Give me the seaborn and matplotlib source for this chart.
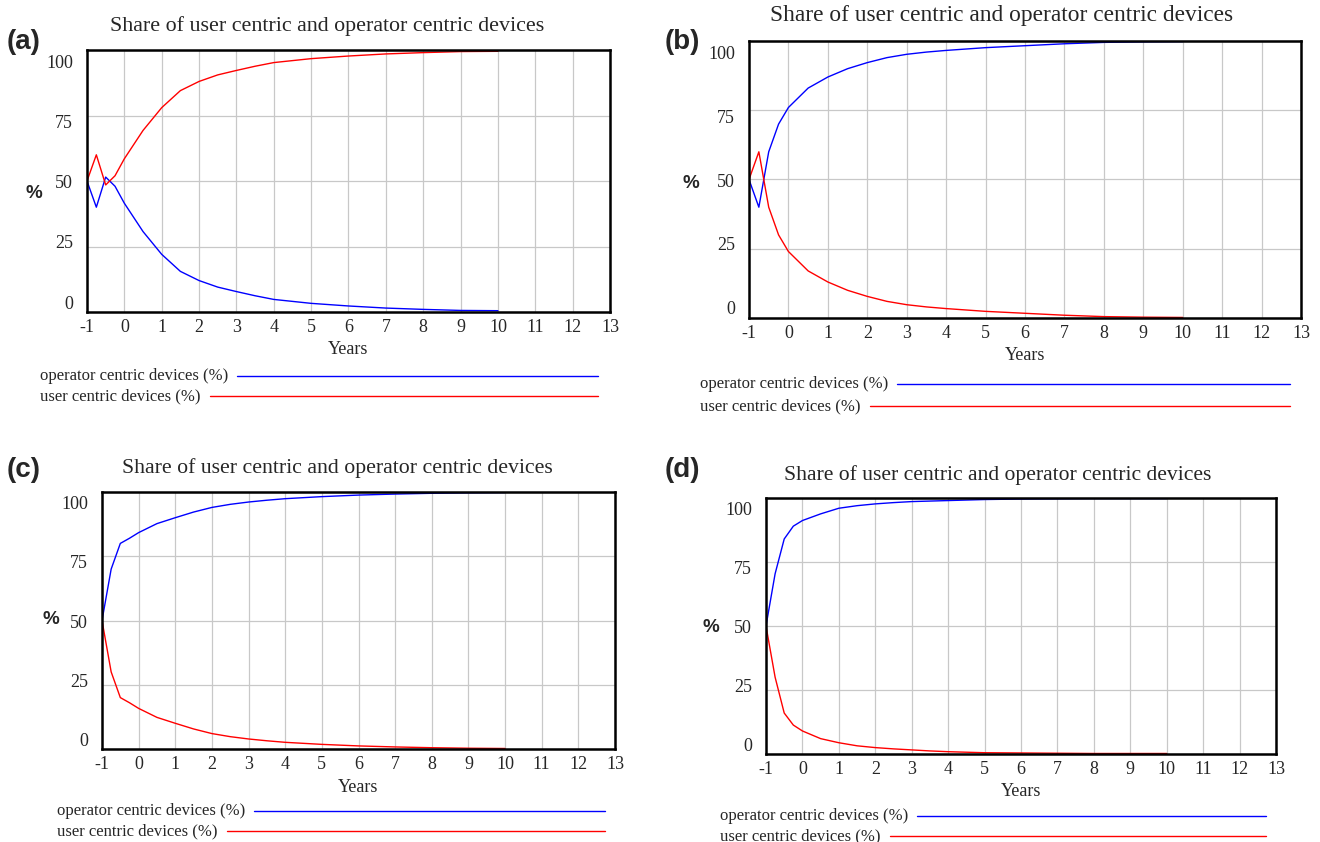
import numpy as np
import pandas as pd
import matplotlib
matplotlib.use("Agg")
import matplotlib.pyplot as plt
from matplotlib.lines import Line2D
import seaborn as sns

# time axis of the simulation output (years)
years = [-1, -0.75, -0.5, -0.25, 0, 0.5, 1, 1.5, 2, 2.5, 3, 3.5, 4, 5, 6, 7, 8, 9, 10]

# (a)
op_a = [50, 40, 51.5, 48, 41.5, 30.7, 22, 15.5, 12, 9.5, 7.8, 6.2, 4.8, 3.3, 2.3, 1.5, 1.0, 0.6, 0.5]
user_a = [50, 60, 48.5, 52, 58.5, 69.3, 78, 84.5, 88, 90.5, 92.2, 93.8, 95.2, 96.7, 97.7, 98.5, 99.0, 99.4, 99.5]
# (b)
op_b = [50, 40, 60, 70, 76, 83, 87, 90, 92.2, 94, 95.2, 96, 96.6, 97.6, 98.3, 99.0, 99.5, 99.7, 99.8]
user_b = [50, 60, 40, 30, 24, 17, 13, 10, 7.8, 6, 4.8, 4, 3.4, 2.4, 1.7, 1.0, 0.5, 0.3, 0.2]
# (c)
op_c = [50, 70, 80, 82, 84.2, 87.7, 90, 92.2, 94, 95.2, 96.1, 96.8, 97.4, 98.2, 98.8, 99.2, 99.5, 99.7, 99.8]
user_c = [50, 30, 20, 18, 15.8, 12.3, 10, 7.8, 6, 4.8, 3.9, 3.2, 2.6, 1.8, 1.2, 0.8, 0.5, 0.3, 0.2]
# (d)
op_d = [50, 70.4, 84, 89, 91.2, 93.8, 96, 97, 97.7, 98.2, 98.6, 98.8, 99, 99.4, 99.6, 99.7, 99.8, 99.8, 99.8]
user_d = [50, 30, 16, 11.3, 9, 6, 4.4, 3.2, 2.5, 2, 1.6, 1.2, 0.9, 0.5, 0.4, 0.3, 0.2, 0.2, 0.2]

panel_letters = ["(a)", "(b)", "(c)", "(d)"]
series_names = ["operator centric devices (%)", "user centric devices (%)"]
title = "Share of user centric and operator centric devices"
y_ticks = [0, 25, 50, 75, 100]
x_ticks = list(range(-1, 14))

colors = {series_names[0]: "#0000ff", series_names[1]: "#ff0000"}

sns.set_style("white")
plt.rcParams["font.family"] = ["Liberation Serif", "DejaVu Serif"]

W, H = 1320, 842
fig = plt.figure(figsize=(W / 100, H / 100), dpi=100)

# layout in pixels: axes box (left, top, right, bottom), title centre, letter, %, legend
layout = [
    dict(box=(87, 50, 610, 312), title=(327, 26), tsize=15.8, letter=(7, 42), pct=(34, 193),
         leg_x=40, leg_y=(376, 396), leg_end=598),
    dict(box=(749, 41, 1301, 318), title=(1002, 16), tsize=16.8, letter=(665, 42), pct=(691, 183),
         leg_x=700, leg_y=(384, 406), leg_end=1290),
    dict(box=(102, 492, 615, 749), title=(337, 468), tsize=15.7, letter=(7, 470), pct=(51, 620),
         leg_x=57, leg_y=(811, 831), leg_end=605),
    dict(box=(766, 498, 1276, 754), title=(998, 475), tsize=15.6, letter=(665, 470), pct=(711, 628),
         leg_x=720, leg_y=(816, 836), leg_end=1266),
]

data = [(op_a, user_a), (op_b, user_b), (op_c, user_c), (op_d, user_d)]

def fx(px):
    return px / W

def fy(py):
    return 1 - py / H

legend_texts = []
for letter, (op, user), lay in zip(panel_letters, data, layout):
    l, t, r, b = lay["box"]
    ax = fig.add_axes([fx(l), fy(b), (r - l) / W, (b - t) / H])
    df = pd.DataFrame({
        "Years": years * 2,
        "share": op + user,
        "series": [series_names[0]] * len(years) + [series_names[1]] * len(years),
    })
    sns.lineplot(data=df, x="Years", y="share", hue="series", palette=colors,
                 linewidth=1.0, legend=False, ax=ax)
    ax.set_xlim(-1, 13)
    ax.set_ylim(0, 100)
    ax.set_xticks(x_ticks)
    ax.set_xticklabels([str(v) for v in x_ticks], fontsize=13)
    # gridlines on the real values, labels spread evenly inside the box
    ax.set_yticks(y_ticks)
    ax.set_yticklabels([])
    ax.set_yticks(np.linspace(3.8, 95.8, len(y_ticks)), minor=True)
    ax.set_yticklabels([str(v) for v in y_ticks], minor=True, fontsize=13)
    ax.tick_params(which="both", length=0)
    ax.tick_params(axis="y", which="minor", pad=10)
    ax.tick_params(axis="x", pad=5)
    ax.grid(which="major", color="#c8c8c8", linewidth=0.9)
    ax.set_axisbelow(True)
    for s in ax.spines.values():
        s.set_visible(True)
        s.set_color("black")
        s.set_linewidth(1.8)
    ax.set_xlabel("Years", fontsize=13, labelpad=4)
    ax.set_ylabel("")

    fig.text(fx(lay["title"][0]), fy(lay["title"][1]), title, fontsize=lay["tsize"],
             ha="center", va="center")
    fig.text(fx(lay["letter"][0]), fy(lay["letter"][1]), letter, fontsize=20,
             fontweight="bold", family="Liberation Sans", ha="left", va="center")
    fig.text(fx(lay["pct"][0]), fy(lay["pct"][1]), "%", fontsize=13.5,
             fontweight="bold", family="Liberation Sans", ha="center", va="center")

    for name, ly in zip(series_names, lay["leg_y"]):
        txt = fig.text(fx(lay["leg_x"]), fy(ly), name, fontsize=12, ha="left", va="center")
        legend_texts.append((txt, ly, lay["leg_end"], colors[name]))

# legend lines start just after their labels
fig.canvas.draw()
renderer = fig.canvas.get_renderer()
for txt, ly, end, col in legend_texts:
    bb = txt.get_window_extent(renderer)
    x0 = bb.x1 + 9
    fig.add_artist(Line2D([x0 / W, fx(end)], [fy(ly), fy(ly)], color=col, linewidth=1.0,
                          transform=fig.transFigure))

fig.savefig("out.png", dpi=100)
